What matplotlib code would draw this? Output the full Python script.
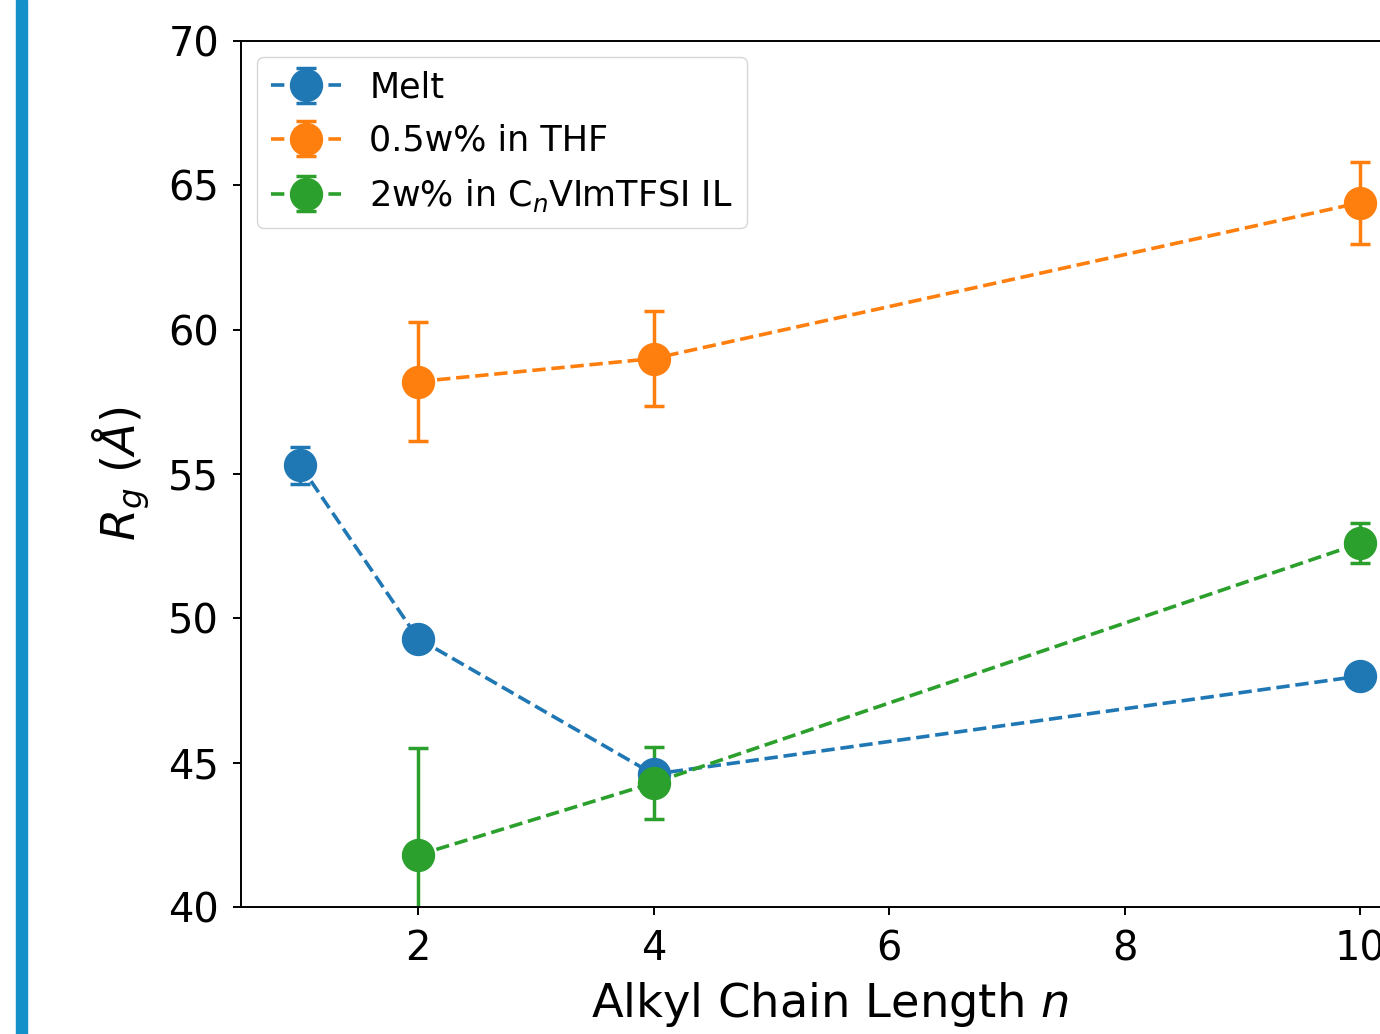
import matplotlib
matplotlib.use("Agg")
import matplotlib.pyplot as plt
import numpy as np

# alkyl chain length n
n_melt = [1, 2, 4, 10]
rg_melt = [55.3, 49.3, 44.6, 48.0]
err_melt = [0.65, 0.3, 0.3, 0.3]

n_thf = [2, 4, 10]
rg_thf = [58.2, 59.0, 64.4]
err_thf = [2.05, 1.63, 1.42]

n_il = [2, 4, 10]
rg_il = [41.8, 44.3, 52.6]
err_il = [3.7, 1.26, 0.69]

W, H = 1380, 1034
fig = plt.figure(figsize=(W / 100, H / 100), dpi=100)

# blue stripe on the left edge of the page
fig.patches.append(plt.Rectangle((16 / W, 0), 11 / W, 1, transform=fig.transFigure,
                                 color="#1591c9", zorder=0))

ax = fig.add_axes([241.4 / W, 1 - 907 / H, (1419 - 241.4) / W, (907 - 41) / H])

style = dict(fmt="o--", markersize=23, linewidth=2.6, elinewidth=2.5,
             capsize=7.2, capthick=2.5)
ax.errorbar(n_melt, rg_melt, yerr=err_melt, color="C0", label="Melt", **style)
ax.errorbar(n_thf, rg_thf, yerr=err_thf, color="C1", label="0.5w% in THF", **style)
ax.errorbar(n_il, rg_il, yerr=err_il, color="C2", label=r"2w% in C$_n$VImTFSI IL", **style)

ax.set_xlim(0.5, 10.5)
ax.set_ylim(40, 70)
ax.set_xticks([2, 4, 6, 8, 10])
ax.set_yticks([40, 45, 50, 55, 60, 65, 70])
ax.tick_params(labelsize=28.8, length=6, width=1.4, pad=10)
for s in ax.spines.values():
    s.set_linewidth(1.4)

ax.set_xlabel(r"Alkyl Chain Length $n$", fontsize=33.4, labelpad=8)
ax.set_ylabel(r"$R_g$ $(\AA)$", fontsize=33.4, labelpad=12)
ax.legend(loc="upper left", fontsize=25.2, borderaxespad=0.45,
          borderpad=0.4, labelspacing=0.55)

fig.savefig("out.png", dpi=100)
